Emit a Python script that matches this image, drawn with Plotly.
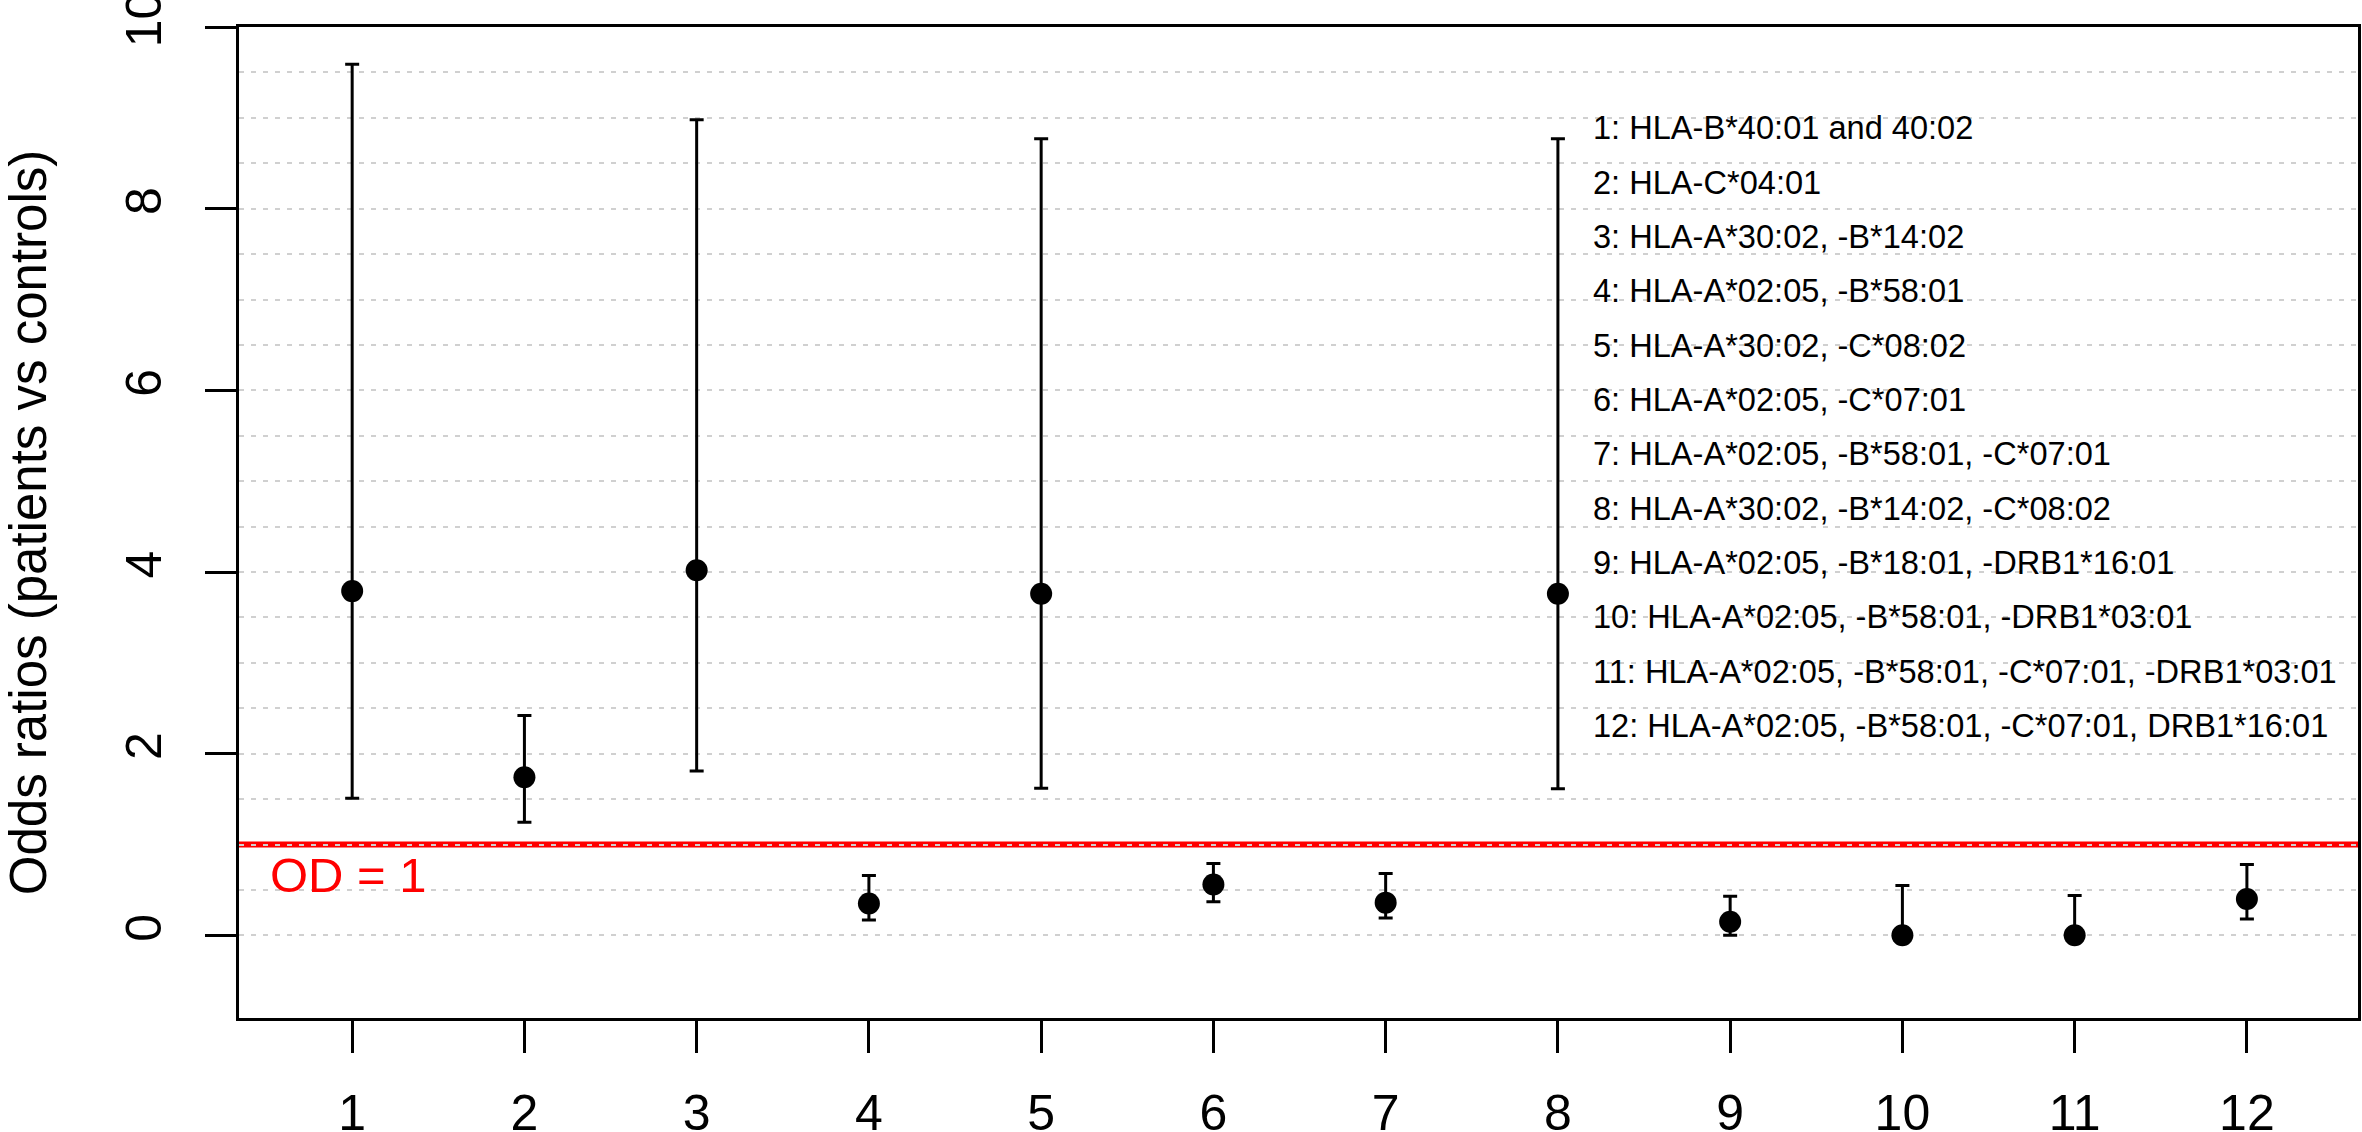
import plotly.graph_objects as go

# ---- data ----
groups = [1, 2, 3, 4, 5, 6, 7, 8, 9, 10, 11, 12]
odds = [3.79, 1.74, 4.02, 0.35, 3.76, 0.56, 0.36, 3.76, 0.15, 0.00, 0.00, 0.40]
upper = [9.59, 2.42, 8.98, 0.66, 8.77, 0.79, 0.68, 8.77, 0.43, 0.55, 0.44, 0.78]
lower = [1.51, 1.245, 1.81, 0.17, 1.62, 0.37, 0.19, 1.615, 0.00, 0.00, 0.00, 0.18]
legend_lines = [
    "1: HLA-B*40:01 and 40:02",
    "2: HLA-C*04:01",
    "3: HLA-A*30:02, -B*14:02",
    "4: HLA-A*02:05, -B*58:01",
    "5: HLA-A*30:02, -C*08:02",
    "6: HLA-A*02:05, -C*07:01",
    "7: HLA-A*02:05, -B*58:01, -C*07:01",
    "8: HLA-A*30:02, -B*14:02, -C*08:02",
    "9: HLA-A*02:05, -B*18:01, -DRB1*16:01",
    "10: HLA-A*02:05, -B*58:01, -DRB1*03:01",
    "11: HLA-A*02:05, -B*58:01, -C*07:01, -DRB1*03:01",
    "12: HLA-A*02:05, -B*58:01, -C*07:01, DRB1*16:01",
]
y_ticks = [0, 2, 4, 6, 8, 10]
grid_vals = [i * 0.5 for i in range(21)]
ref_value = 1
ref_label = "OD = 1"
y_title = "Odds ratios (patients vs controls)"

FONT = "Liberation Sans, Arial, sans-serif"

err_plus = [u - o for u, o in zip(upper, odds)]
err_minus = [o - l for o, l in zip(odds, lower)]

fig = go.Figure()
fig.add_trace(go.Scatter(
    x=groups, y=odds, mode="markers",
    marker=dict(color="black", size=22, symbol="circle"),
    error_y=dict(type="data", symmetric=False, array=err_plus, arrayminus=err_minus,
                 color="black", thickness=3, width=7),
    showlegend=False, hoverinfo="x+y",
))

# reference line (drawn below grid so dotted grid shows over it)
fig.add_shape(type="line", xref="paper", x0=0, x1=1, yref="y", y0=ref_value, y1=ref_value,
              line=dict(color="red", width=6), layer="below")
fig.add_annotation(x=0.51, y=0.66, xref="x", yref="y", text=ref_label, showarrow=False,
                   xanchor="left", yanchor="middle",
                   font=dict(family=FONT, size=49, color="red"))

# legend-like text list
line_top = 8.89
line_step = 0.598
for i, t in enumerate(legend_lines):
    fig.add_annotation(x=8.19, xref="x", y=line_top - i * line_step, yref="y",
                       text=t, showarrow=False, xanchor="left", yanchor="middle",
                       font=dict(family=FONT, size=32.6, color="black"))

minor_vals = [v for v in grid_vals if v not in y_ticks]

fig.update_xaxes(
    range=[0.343, 12.645], tickmode="array", tickvals=groups, ticktext=[str(g) for g in groups],
    showgrid=False, zeroline=False,
    showline=True, linecolor="black", linewidth=3, mirror=True,
    ticks="outside", ticklen=32, tickwidth=3, tickcolor="black",
    tickfont=dict(family=FONT, size=50, color="black"), ticklabelstandoff=17,
    automargin=False,
)
fig.update_yaxes(
    range=[-0.91, 10.0005], tickmode="array", tickvals=y_ticks, ticktext=[str(v) for v in y_ticks],
    tickangle=-90, ticklabeloverflow="allow",
    showgrid=True, gridcolor="#d0d0d0", gridwidth=2, griddash="5px,7px",
    minor=dict(tickmode="array", tickvals=minor_vals, showgrid=True, gridcolor="#d0d0d0",
               gridwidth=2, griddash="5px,7px", ticks=""),
    zeroline=False,
    showline=True, linecolor="black", linewidth=3, mirror=True,
    ticks="outside", ticklen=31, tickwidth=3, tickcolor="black",
    tickfont=dict(family=FONT, size=50, color="black"), ticklabelstandoff=24,
    title=dict(text=y_title, font=dict(family=FONT, size=51, color="black"), standoff=66),
    automargin=False,
)

fig.update_layout(
    width=2362, height=1132,
    margin=dict(l=239, r=4, t=27, b=114, autoexpand=False),
    paper_bgcolor="white", plot_bgcolor="white",
    font=dict(family=FONT),
)

fig.write_html(
    "out.html",
    config={"displayModeBar": False},
    post_script="document.body.style.margin='0';document.body.style.overflow='hidden';",
)
